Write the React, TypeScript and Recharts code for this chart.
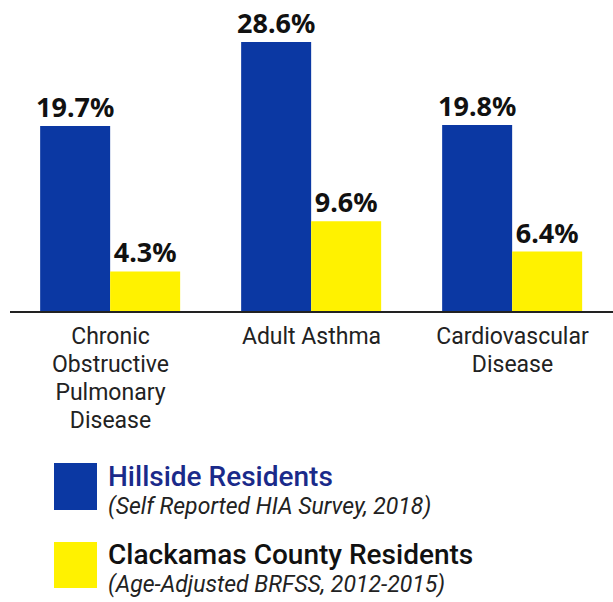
import { BarChart, Bar, XAxis, YAxis, LabelList } from "recharts";

const categories = [
  ["Chronic", "Obstructive", "Pulmonary", "Disease"],
  ["Adult Asthma"],
  ["Cardiovascular", "Disease"],
];
const hillside = [19.7, 28.6, 19.8];
const clackamas = [4.3, 9.6, 6.4];

const BLUE = "#0b38a3";
const YELLOW = "#fff200";

const data = categories.map((lines, i) => ({
  name: lines.join(" "),
  hillside: hillside[i],
  clackamas: clackamas[i],
}));

function Tick({ x, y, payload }: any) {
  const idx = data.findIndex((d) => d.name === payload.value);
  const lines = categories[idx] || [payload.value];
  return (
    <text
      x={x}
      y={y}
      textAnchor="middle"
      fontFamily="Roboto, sans-serif"
      fontSize={23}
      fill="#222"
    >
      {lines.map((l, i) => (
        <tspan key={i} x={x} dy={i === 0 ? 24 : 28}>
          {l}
        </tspan>
      ))}
    </text>
  );
}

const fmt = (v: any) => `${Number(v).toFixed(1)}%`;

const labelStyle = {
  fontFamily: "'Noto Sans', sans-serif",
  fontWeight: 700,
  fontSize: 27,
  fill: "#111",
};

const legendTitle = (color: string) => ({
  position: "absolute" as const,
  left: 108,
  fontSize: 28,
  fontWeight: 500,
  color,
  lineHeight: "30px",
  whiteSpace: "nowrap" as const,
});

const legendSub = {
  position: "absolute" as const,
  left: 108,
  fontSize: 23,
  fontStyle: "italic",
  color: "#222",
  lineHeight: "30px",
  whiteSpace: "nowrap" as const,
};

export default function App() {
  return (
    <div
      style={{
        position: "absolute",
        left: 0,
        top: 0,
        width: 613,
        height: 602,
        background: "#fff",
        fontFamily: "Roboto, sans-serif",
      }}
    >
      <BarChart
        width={613}
        height={440}
        data={data}
        margin={{ top: 42, right: 0, left: 10, bottom: 0 }}
        barCategoryGap="15%"
        barGap={0}
      >
        <XAxis
          dataKey="name"
          height={128}
          interval={0}
          tickLine={false}
          axisLine={{ stroke: "#222", strokeWidth: 2 }}
          tick={<Tick />}
        />
        <YAxis hide domain={[0, 28.6]} />
        <Bar dataKey="hillside" fill={BLUE} isAnimationActive={false}>
          <LabelList dataKey="hillside" position="top" offset={9} formatter={fmt} style={labelStyle} />
        </Bar>
        <Bar dataKey="clackamas" fill={YELLOW} isAnimationActive={false}>
          <LabelList dataKey="clackamas" position="top" offset={9} formatter={fmt} style={labelStyle} />
        </Bar>
      </BarChart>

      {/* legend */}
      <div style={{ position: "absolute", left: 54, top: 463, width: 43, height: 47, background: BLUE }} />
      <div style={{ ...legendTitle("#1a2a8a"), top: 462 }}>Hillside Residents</div>
      <div style={{ ...legendSub, top: 492 }}>(Self Reported HIA Survey, 2018)</div>

      <div style={{ position: "absolute", left: 54, top: 542, width: 43, height: 46, background: YELLOW }} />
      <div style={{ ...legendTitle("#111"), top: 540 }}>Clackamas County Residents</div>
      <div style={{ ...legendSub, top: 570 }}>(Age-Adjusted BRFSS, 2012-2015)</div>
    </div>
  );
}
